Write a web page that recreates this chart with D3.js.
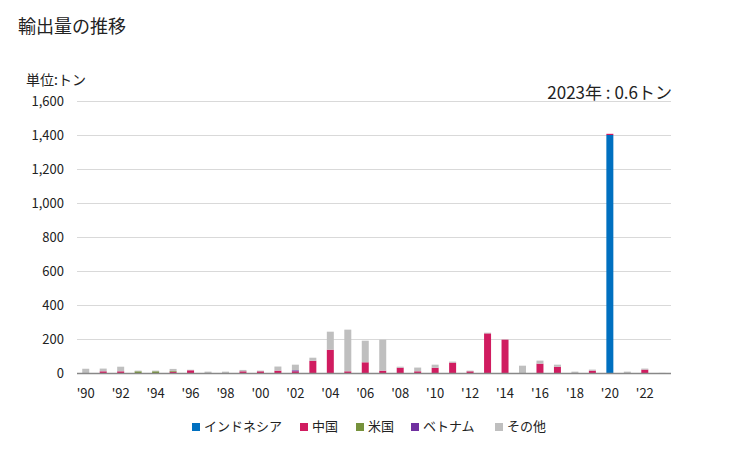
<!DOCTYPE html>
<html><head><meta charset="utf-8">
<script src="https://cdn.jsdelivr.net/npm/d3@7"></script>
<style>body{margin:0;background:#fff;font-family:"Noto Sans CJK JP","Noto Sans",sans-serif;}</style>
</head><body><svg id="c" width="729" height="450"></svg>
<script>
const years = d3.range(1990, 2024);
const seriesNames = ["インドネシア","中国","米国","ベトナム","その他"];
const colors = ["#0070c0","#d01c60","#76923c","#7030a0","#bfbfbf"];
const indonesia = [0,0,0,0,0,0,0,0,0,0,0,0,0,0,0,0,0,0,0,0,0,0,0,0,0,0,0,0,0,0,1400,0,0,0];
const china     = [0,10,10,0,0,8,16,0,0,10,10,14,10,72,137,10,63,14,31,10,31,61,10,233,196,0,55,37,0,14,7,0,20,0];
const usa       = [0,0,0,10,10,4,0,0,0,0,0,0,0,0,0,0,0,0,0,0,0,0,0,0,0,0,0,0,0,0,0,0,0,0];
const vietnam   = [0,0,0,0,0,0,0,0,0,0,0,0,6,0,0,0,0,0,0,0,0,0,0,0,0,0,0,0,0,0,0,0,0,0];
const other     = [25,16,27,4,4,12,3,8,8,8,4,24,33,18,106,245,127,182,6,22,18,6,4,4,0,43,18,12,8,6,0,8,6,0.6];
const yTicks = [0,200,400,600,800,1000,1200,1400,1600];
const xTickLabels = ["'90","'92","'94","'96","'98","'00","'02","'04","'06","'08","'10","'12","'14","'16","'18","'20","'22"];

const svg = d3.select("#c");
const m = {l:77, r:671, t:101, b:373};
const x = d3.scaleBand().domain(years).range([m.l, m.r]).paddingInner(0.6).paddingOuter(0.3);
const y = d3.scaleLinear().domain([0,1600]).range([m.b, m.t]);

svg.append("text").attr("x",18).attr("y",33).attr("font-size",18).attr("fill","#222").text("輸出量の推移");
svg.append("text").attr("x",26).attr("y",85).attr("font-size",14).attr("fill","#222").text("単位:トン");
svg.append("text").attr("x",672).attr("y",99).attr("text-anchor","end").attr("font-size",17).attr("fill","#222").text("2023年 : 0.6トン");

// grid
svg.append("g").selectAll("line").data(yTicks.filter(d=>d>0)).join("line")
  .attr("x1",m.l).attr("x2",m.r).attr("y1",d=>y(d)+0.5).attr("y2",d=>y(d)+0.5)
  .attr("stroke","#d9d9d9").attr("stroke-width",1);
svg.append("g").selectAll("text").data(yTicks).join("text")
  .attr("x",64).attr("y",d=>y(d)+4.5).attr("text-anchor","end").attr("font-size",13).attr("fill","#222")
  .text(d=>d3.format(",")(d));

// stacks
const table = years.map((yr,i)=>({year:yr, s0:indonesia[i], s1:china[i], s2:usa[i], s3:vietnam[i], s4:other[i]}));
const stack = d3.stack().keys(["s0","s1","s2","s3","s4"])(table);
svg.append("g").selectAll("g").data(stack).join("g").attr("fill",(d,i)=>colors[i])
  .selectAll("rect").data(d=>d).join("rect")
  .attr("x",d=>x(d.data.year)).attr("width",x.bandwidth())
  .attr("y",d=>y(d[1])).attr("height",d=>Math.max(0,y(d[0])-y(d[1])));

// baseline
svg.append("line").attr("x1",m.l).attr("x2",m.r).attr("y1",m.b+0.5).attr("y2",m.b+0.5).attr("stroke","#888").attr("stroke-width",1.5);

// x labels
svg.append("g").selectAll("text").data(xTickLabels).join("text")
  .attr("x",(d,i)=>x(years[i*2])+x.bandwidth()/2).attr("y",398).attr("text-anchor","middle")
  .attr("font-size",13).attr("fill","#222").text(d=>d);

// legend
const legX = [192,300,356,411,495];
const lg = svg.append("g").selectAll("g").data(seriesNames).join("g")
  .attr("transform",(d,i)=>`translate(${legX[i]},422)`);
lg.append("rect").attr("width",8).attr("height",8).attr("y",1).attr("fill",(d,i)=>colors[i]);
lg.append("text").attr("x",12).attr("y",9).attr("font-size",13).attr("fill","#222").text(d=>d);
</script></body></html>
